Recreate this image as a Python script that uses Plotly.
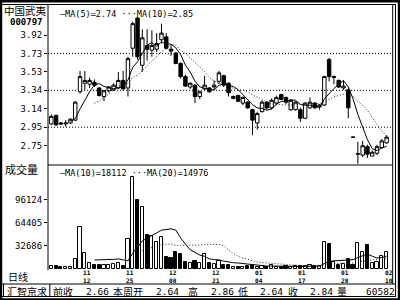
import plotly.graph_objects as go
import pandas as pd

# ---------------- data ----------------
opens = [2.98, 3.07, 2.99, 2.98, 2.99, 3.02, 3.32, 3.41, 3.40, 3.42,
         3.36, 3.27, 3.33, 3.34, 3.36, 3.44, 3.36, 3.78, 4.10, 3.60,
         3.81, 3.76, 3.77, 3.87, 3.90, 3.77, 3.73, 3.62, 3.48, 3.37,
         3.39, 3.27, 3.35, 3.36, 3.37, 3.43, 3.49, 3.41, 3.25, 3.28,
         3.20, 3.21, 3.13, 2.99, 3.11, 3.21, 3.15, 3.20, 3.29, 3.26,
         3.13, 3.13, 3.13, 3.04, 3.15, 3.20, 3.16, 3.18, 3.66, 3.47,
         3.44, 3.36, 3.34, 2.84, 2.66, 2.65, 2.74, 2.64, 2.67, 2.73,
         2.78]
highs = [3.08, 3.08, 3.00, 3.02, 3.04, 3.22, 3.54, 3.54, 3.47, 3.45,
         3.37, 3.34, 3.38, 3.41, 3.53, 3.54, 3.69, 4.06, 4.11, 3.98,
         3.98, 3.97, 3.94, 4.04, 3.94, 3.81, 3.74, 3.63, 3.50, 3.42,
         3.40, 3.33, 3.49, 3.37, 3.44, 3.54, 3.50, 3.42, 3.28, 3.29,
         3.27, 3.22, 3.14, 3.11, 3.23, 3.22, 3.25, 3.28, 3.30, 3.27,
         3.24, 3.22, 3.15, 3.21, 3.26, 3.21, 3.19, 3.49, 3.68, 3.49,
         3.45, 3.44, 3.36, 2.84, 2.79, 2.80, 2.76, 2.70, 2.76, 2.82,
         2.86]
lows = [2.97, 2.96, 2.97, 2.95, 2.98, 3.01, 3.30, 3.34, 3.36, 3.37,
        3.27, 3.22, 3.31, 3.33, 3.35, 3.34, 3.27, 3.69, 3.66, 3.53,
        3.65, 3.69, 3.74, 3.83, 3.77, 3.70, 3.61, 3.46, 3.37, 3.35,
        3.20, 3.24, 3.34, 3.31, 3.34, 3.40, 3.37, 3.27, 3.24, 3.21,
        3.18, 3.14, 2.86, 2.92, 3.10, 3.13, 3.13, 3.18, 3.23, 3.19,
        3.12, 3.12, 3.00, 3.03, 3.14, 3.14, 3.13, 3.17, 3.43, 3.40,
        3.36, 3.34, 3.04, 2.84, 2.56, 2.63, 2.62, 2.64, 2.65, 2.72,
        2.77]
closes = [3.06, 2.97, 2.98, 2.99, 3.03, 3.21, 3.48, 3.44, 3.44, 3.39,
          3.28, 3.33, 3.37, 3.39, 3.44, 3.35, 3.67, 4.04, 3.69, 3.89,
          3.77, 3.81, 3.83, 3.94, 3.78, 3.75, 3.62, 3.48, 3.38, 3.41,
          3.27, 3.32, 3.39, 3.32, 3.39, 3.52, 3.39, 3.31, 3.27, 3.22,
          3.26, 3.15, 3.02, 3.09, 3.21, 3.15, 3.23, 3.26, 3.24, 3.21,
          3.23, 3.21, 3.04, 3.20, 3.21, 3.15, 3.18, 3.48, 3.48, 3.48,
          3.37, 3.38, 3.15, 2.84, 2.665, 2.75, 2.66, 2.68, 2.74, 2.80,
          2.84]
volumes = [4500, 5000, 3000, 3500, 2500, 14000, 59000, 22000, 8000, 6000,
           5500, 6000, 6500, 7000, 9000, 4500, 41500, 128000, 96000, 86700,
           47500, 46500, 37300, 44300, 17400, 15100, 23400, 20700, 9600, 8200,
           11400, 8200, 20700, 8600, 7200, 11400, 5800, 5800, 3500, 3500,
           3500, 4900, 5800, 3500, 4200, 2600, 5800, 3500, 2600, 4200,
           3500, 4000, 4500, 5000, 6000, 4500, 5000, 38000, 35000, 10500,
           6000, 7000, 14000, 6000, 36000, 24000, 33500, 9000, 9500, 18000,
           24082]

date_idx = [-2, 7, 16, 25, 34, 43, 52, 61, 70]
date_month = ["11", "11", "11", "12", "12", "01", "01", "01", "02"]
date_day = ["03", "12", "25", "08", "21", "04", "17", "28", "10"]

price_tickvals = [2.75, 2.945, 3.14, 3.335, 3.53, 3.725, 3.92]
price_ticktext = ["2.75", "2.95", "3.14", "3.34", "3.53", "3.73", "3.92"]
price_grid = [2.945, 3.335, 3.725]
vol_tickvals = [32686, 64405, 96124]
vol_ticktext = ["32686", "64405", "96124"]

stock_name = "中国武夷"
stock_code = "000797"
price_legend = "—MA(5)=2.74 ···MA(10)=2.85"
vol_legend = "—MA(10)=18112 ···MA(20)=14976"
info_items = ["前收", "2.66", "本周开", "2.64", "高", "2.86", "低", "2.64", "收", "2.84", "量", "60582"]

# ---------------- helpers ----------------
W, H = 400, 300
def px(x):
    return x / W
def py(y):
    return 1 - y / H

idx = list(range(len(closes)))
ma5 = pd.Series(closes).rolling(5).mean()
ma10 = pd.Series(closes).rolling(10).mean()
vma10 = pd.Series(volumes).rolling(10).mean()
vma20 = pd.Series(volumes).rolling(20).mean()

def is_up(i):
    return closes[i] > opens[i]

vol_fill = ["white" if is_up(i) else "black" for i in idx]

MONO = "DejaVu Sans Mono"
CJK = "Noto Sans CJK SC"

X_L, X_R = 48, 392.7
Y_T, Y_MID, Y_V0 = 4.5, 165, 269.2
x0_bar, dx_bar = 51.3, 4.79

fig = go.Figure()
fig.add_trace(go.Candlestick(
    x=idx, open=opens, high=highs, low=lows, close=closes,
    increasing=dict(fillcolor="white", line=dict(color="black", width=1)),
    decreasing=dict(fillcolor="black", line=dict(color="black", width=1)),
    whiskerwidth=0, xaxis="x", yaxis="y", hoverinfo="skip"))
fig.add_trace(go.Scatter(x=idx, y=ma5, mode="lines", line=dict(color="black", width=1),
                         xaxis="x", yaxis="y", hoverinfo="skip"))
fig.add_trace(go.Scatter(x=idx, y=ma10, mode="lines",
                         line=dict(color="#222222", width=1, dash="1px,2px"),
                         xaxis="x", yaxis="y", hoverinfo="skip"))
fig.add_trace(go.Bar(x=idx, y=volumes, width=0.66,
                     marker=dict(color=vol_fill, line=dict(color="black", width=1)),
                     xaxis="x", yaxis="y2", hoverinfo="skip"))
fig.add_trace(go.Scatter(x=idx, y=vma10, mode="lines", line=dict(color="black", width=1),
                         xaxis="x", yaxis="y2", hoverinfo="skip"))
fig.add_trace(go.Scatter(x=idx, y=vma20, mode="lines",
                         line=dict(color="#222222", width=1, dash="1px,2px"),
                         xaxis="x", yaxis="y2", hoverinfo="skip"))

x_lo = (X_L - x0_bar) / dx_bar
x_hi = (X_R - x0_bar) / dx_bar
ppu = 94.6
p_top = 3.92 + (35 - Y_T) / ppu
p_bot = 3.92 - (Y_MID - 35) / ppu
vpp = 1388
v_top = (Y_V0 - Y_MID) * vpp

axis_common = dict(showgrid=False, zeroline=False, showline=False, ticks="outside",
                   ticklen=3, tickcolor="black", tickwidth=1,
                   tickfont=dict(family=MONO, size=9, color="black"))

fig.update_layout(
    width=W, height=H, margin=dict(l=0, r=0, t=0, b=0),
    paper_bgcolor="white", plot_bgcolor="white", showlegend=False,
    boxgap=0.2, boxgroupgap=0.1, bargap=0,
    xaxis=dict(domain=[px(X_L), px(X_R)], range=[x_lo, x_hi], anchor="y2",
               showticklabels=False, showgrid=False, zeroline=False, showline=False,
               ticks="", rangeslider=dict(visible=False), fixedrange=True),
    yaxis=dict(domain=[py(Y_MID), py(Y_T)], range=[p_bot, p_top], anchor="x",
               tickvals=price_tickvals, ticktext=price_ticktext, **axis_common),
    yaxis2=dict(domain=[py(Y_V0), py(Y_MID)], range=[0, v_top], anchor="x",
                tickvals=vol_tickvals, ticktext=vol_ticktext, **axis_common),
)

shapes = []
def line(x0, y0, x1, y1, w=1, dash=None):
    d = dict(type="line", xref="paper", yref="paper", x0=px(x0), y0=py(y0), x1=px(x1), y1=py(y1),
             line=dict(color="black", width=w))
    if dash:
        d["line"]["dash"] = dash
    shapes.append(d)
def rect(x0, y0, x1, y1):
    shapes.append(dict(type="rect", xref="paper", yref="paper", x0=px(x0), y0=py(y0), x1=px(x1), y1=py(y1),
                       line=dict(width=0), fillcolor="black"))

# outer frame
rect(0, 0, 2.2, 300)
rect(0, 0, 400, 2.5)
rect(397.8, 0, 400, 300)
rect(0, 298.2, 400, 300)
line(0, 4.5, 396, 4.5)
line(395.5, 4.5, 395.5, 296.5)
line(0, 296.5, 396, 296.5)
line(0, 284, 396, 284)
# plot frame
line(X_R, Y_T, X_R, 284)
line(X_L, Y_T, X_L, 270)
line(X_L, Y_MID, X_R, Y_MID)
# box around broker name
line(3.5, 284, 3.5, 296.5)
line(49.8, 284, 49.8, 296.5)
# dotted grid lines
for g in price_grid:
    shapes.append(dict(type="line", xref="paper", yref="y", x0=px(X_L), x1=px(X_R), y0=g, y1=g,
                       line=dict(color="black", width=1, dash="1px,2px")))
fig.update_layout(shapes=shapes)

ann = []
def text(t, x, y, size, family=MONO, xanchor="center", bold=False):
    ann.append(dict(text=("<b>%s</b>" % t) if bold else t, xref="paper", yref="paper",
                    x=px(x), y=py(y), xanchor=xanchor, yanchor="middle", showarrow=False,
                    borderpad=0, font=dict(family=family, size=size, color="black")))

text(stock_name, 25.5, 11, 10.5, CJK)
text(stock_code, 26, 22.5, 9, MONO, bold=True)
text(price_legend, 59, 13.5, 8.5, MONO, xanchor="left")
text("成交量", 21, 168.5, 11, CJK)
text(vol_legend, 59, 172.5, 8.5, MONO, xanchor="left")
text("日线", 17.5, 276.5, 10, CJK)
text("汇智京求", 26.5, 291, 10, CJK)

info_x = [62.5, 97, 128, 167, 192.5, 222.5, 243, 271, 293, 321, 342, 380]
for t, xc in zip(info_items, info_x):
    if any(ord(ch) > 127 for ch in t):
        text(t, xc, 291, 10, CJK)
    else:
        text(t, xc, 291, 9.5, MONO)

for i, m, d in zip(date_idx, date_month, date_day):
    ann.append(dict(text="<b>%s<br>%s</b>" % (m, d), xref="x", yref="paper", x=i, y=py(276.5),
                    xshift=2, xanchor="center", yanchor="middle", showarrow=False,
                    borderpad=0, font=dict(family=MONO, size=6.2, color="black")))

fig.update_layout(annotations=ann)
fig.write_html("out.html")
